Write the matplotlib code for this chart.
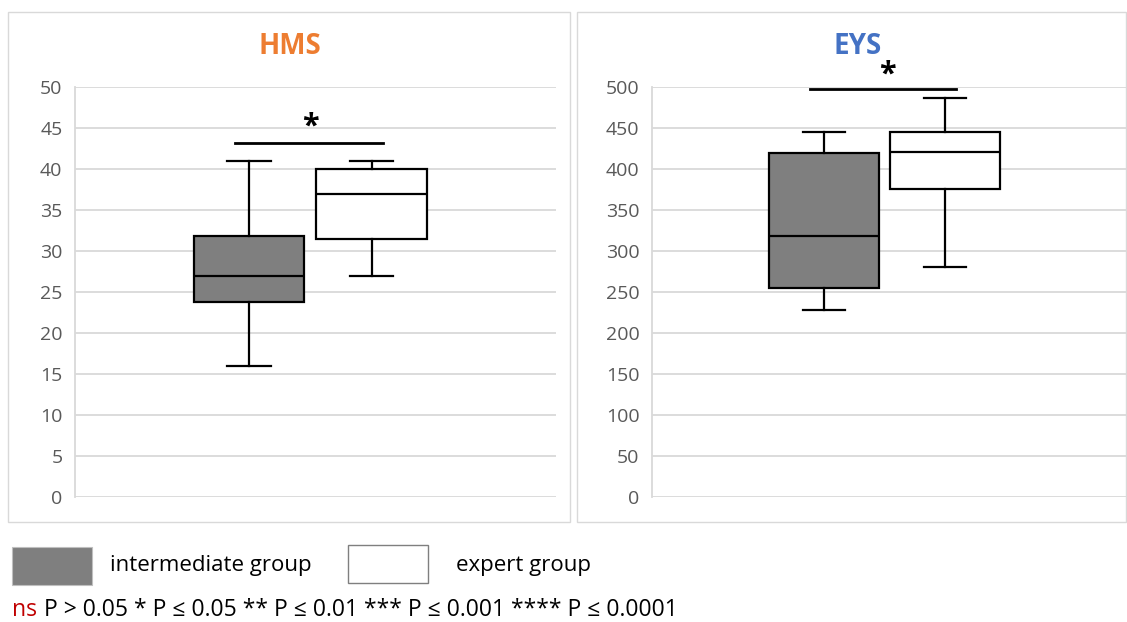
import matplotlib.pyplot as plt
from matplotlib.patches import Rectangle

W, H = 1127, 622

GROUPS = ['intermediate group', 'expert group']
GROUP_COLORS = ['#7f7f7f', '#ffffff']

# five-number summaries: min, q1, median, q3, max
HMS_INTERMEDIATE = [16, 23.8, 27, 31.8, 41]
HMS_EXPERT = [27, 31.5, 37, 40, 41]
EYS_INTERMEDIATE = [228, 255, 318, 420, 445]
EYS_EXPERT = [280, 376, 421, 445, 486]

HMS_TICKS = list(range(0, 51, 5))
EYS_TICKS = list(range(0, 501, 50))

HMS_SIG = 43.2
EYS_SIG = 497

plt.rcParams['font.family'] = ['Open Sans', 'DejaVu Sans']


def px_ax(fig, left, top, right, bottom):
    return fig.add_axes([left / W, 1 - bottom / H, (right - left) / W, (bottom - top) / H])


def stats(vals, label):
    lo, q1, med, q3, hi = vals
    return {'whislo': lo, 'q1': q1, 'med': med, 'q3': q3, 'whishi': hi, 'label': label}


def panel(ax, inter, expert, ticks, sig):
    bp = ax.bxp([stats(inter, GROUPS[0]), stats(expert, GROUPS[1])],
                positions=[3.62, 6.17], widths=2.3, capwidths=0.9,
                showfliers=False, patch_artist=True, manage_ticks=False,
                boxprops=dict(edgecolor='black', linewidth=1.6),
                whiskerprops=dict(color='black', linewidth=1.6),
                capprops=dict(color='black', linewidth=1.6),
                medianprops=dict(color='black', linewidth=1.6))
    for patch, c in zip(bp['boxes'], GROUP_COLORS):
        patch.set_facecolor(c)

    ax.set_xlim(0, 10)
    ax.set_ylim(ticks[0], ticks[-1])
    ax.set_yticks(ticks)
    ax.set_xticks([])
    for t in ticks:
        ax.axhline(t, color='#d9d9d9', lw=1.3, zorder=0)
    for s in ['top', 'right', 'bottom']:
        ax.spines[s].set_visible(False)
    ax.spines['left'].set_color('#d9d9d9')
    ax.spines['left'].set_linewidth(1.3)
    ax.tick_params(axis='y', length=0, labelsize=14, labelcolor='#595959', pad=9)

    ax.plot([3.33, 6.4], [sig, sig], color='black', lw=2, clip_on=False)


fig = plt.figure(figsize=(W / 100, H / 100), dpi=100)

fig.patches.append(Rectangle((8 / W, 1 - 522 / H), 562 / W, 510 / H, transform=fig.transFigure,
                             fill=False, edgecolor='#d9d9d9', lw=1))
fig.patches.append(Rectangle((577 / W, 1 - 522 / H), 549 / W, 510 / H, transform=fig.transFigure,
                             fill=False, edgecolor='#d9d9d9', lw=1))

ax1 = px_ax(fig, 75, 87, 556, 497)
panel(ax1, HMS_INTERMEDIATE, HMS_EXPERT, HMS_TICKS, HMS_SIG)
fig.text(290 / W, 1 - 46 / H, 'HMS', color='#ed7d31', fontsize=20, fontweight='bold',
         ha='center', va='center')
ax1.text(4.9, HMS_SIG + 0.1, '*', ha='center', va='bottom', fontsize=22, fontweight='bold')

ax2 = px_ax(fig, 652, 87, 1127, 497)
panel(ax2, EYS_INTERMEDIATE, EYS_EXPERT, EYS_TICKS, EYS_SIG)
fig.text(858 / W, 1 - 46 / H, 'EYS', color='#4472c4', fontsize=20, fontweight='bold',
         ha='center', va='center')
ax2.text(4.95, EYS_SIG + 0, '*', ha='center', va='bottom', fontsize=22, fontweight='bold',
         clip_on=False)

# legend
fig.patches.append(Rectangle((12 / W, 1 - 585 / H), 80 / W, 38 / H, transform=fig.transFigure,
                             facecolor=GROUP_COLORS[0], edgecolor='#bfbfbf', lw=0.8))
fig.patches.append(Rectangle((348 / W, 1 - 583 / H), 80 / W, 38 / H, transform=fig.transFigure,
                             facecolor=GROUP_COLORS[1], edgecolor='#7f7f7f', lw=1))
fig.text(110 / W, 1 - 566 / H, GROUPS[0], fontsize=16, va='center', ha='left')
fig.text(456 / W, 1 - 566 / H, GROUPS[1], fontsize=16, va='center', ha='left')

fig.text(12 / W, 1 - 610 / H, 'ns', fontsize=16.5, color='#c00000', va='center', ha='left')
fig.text(44 / W, 1 - 610 / H, 'P > 0.05 * P ≤ 0.05 ** P ≤ 0.01 *** P ≤ 0.001 **** P ≤ 0.0001',
         fontsize=16.5, va='center', ha='left')

fig.savefig('out.png', dpi=100)
